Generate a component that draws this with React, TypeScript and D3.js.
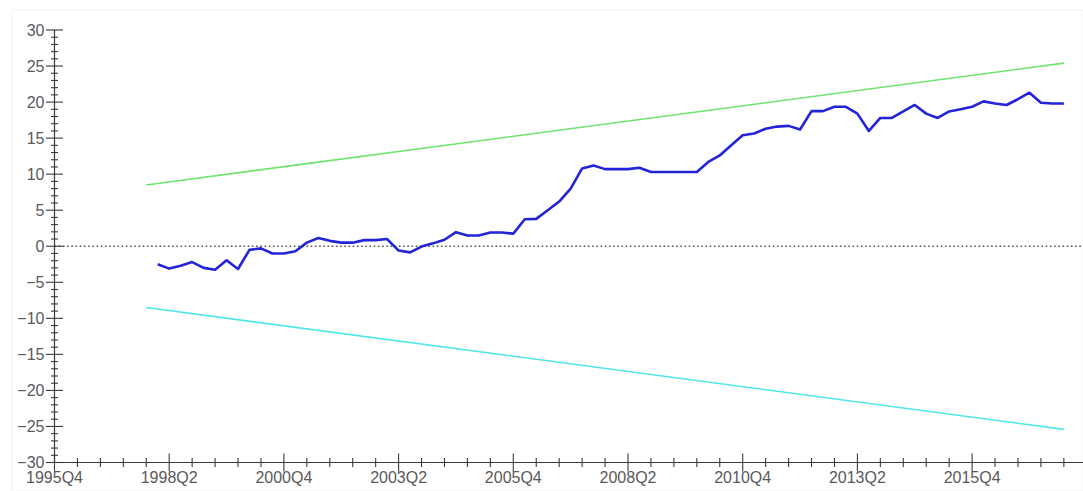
import { useEffect, useRef } from 'react'
import * as d3 from 'd3'

// quarters counted from 1995Q4 (index 0)
const xTickLabels = ['1995Q4', '1998Q2', '2000Q4', '2003Q2', '2005Q4', '2008Q2', '2010Q4', '2013Q2', '2015Q4']
const yTickValues = [-30, -25, -20, -15, -10, -5, 0, 5, 10, 15, 20, 25, 30]

// CUSUM, first point is 1998Q1
const cusumStart = 9
const cusum = [
  -2.5, -3.1, -2.7, -2.2, -3.0, -3.25, -1.95, -3.15, -0.5, -0.3,
  -1.0, -1.0, -0.7, 0.5, 1.15, 0.75, 0.5, 0.5, 0.85, 0.85,
  1.0, -0.6, -0.85, -0.05, 0.4, 0.9, 1.95, 1.5, 1.5, 1.9,
  1.9, 1.75, 3.75, 3.8, 5.0, 6.2, 8.0, 10.8, 11.2, 10.7,
  10.7, 10.7, 10.9, 10.3, 10.3, 10.3, 10.3, 10.3, 11.7, 12.6,
  14.0, 15.4, 15.65, 16.3, 16.6, 16.7, 16.2, 18.75, 18.75, 19.35,
  19.35, 18.4, 16.0, 17.8, 17.8, 18.7, 19.6, 18.4, 17.8, 18.7,
  19.0, 19.35, 20.1, 19.8, 19.6, 20.4, 21.3, 19.9, 19.8, 19.8,
]

// 5% significance bounds (straight lines), 1997Q4 .. 2017Q4
const boundQuarters = [8, 88]
const upperBound = [8.5, 25.4]
const lowerBound = [-8.5, -25.4]

const W = 1083
const H = 491

function CusumChart() {
  const ref = useRef<SVGSVGElement | null>(null)

  useEffect(() => {
    const svg = d3.select(ref.current)
    svg.selectAll('*').remove()

    const x = d3.scaleLinear().domain([0, 90]).range([54.5, 54.5 + 90 * 11.47])
    const y = d3.scaleLinear().domain([-30, 30]).range([462.5, 30])
    const axisColor = '#3a3a3a'
    const textColor = '#5a5a5a'
    const font = '"Liberation Sans", Arial, sans-serif'

    svg.append('rect').attr('x', 12).attr('y', 10).attr('width', W - 12).attr('height', H - 10)
      .attr('fill', 'white').attr('stroke', '#f2f2f2')

    // zero line
    svg.append('line')
      .attr('x1', x(0)).attr('x2', W).attr('y1', y(0)).attr('y2', y(0))
      .attr('stroke', '#555').attr('stroke-width', 1.5).attr('stroke-dasharray', '1.6,2.6')

    const line = d3.line<[number, number]>().x((d) => x(d[0])).y((d) => y(d[1]))

    svg.append('path')
      .attr('d', line(boundQuarters.map((q, i) => [q, upperBound[i]] as [number, number])))
      .attr('fill', 'none').attr('stroke', '#6ee46e').attr('stroke-width', 1.6)
    svg.append('path')
      .attr('d', line(boundQuarters.map((q, i) => [q, lowerBound[i]] as [number, number])))
      .attr('fill', 'none').attr('stroke', '#4ee6e6').attr('stroke-width', 1.6)

    svg.append('path')
      .attr('d', line(cusum.map((v, i) => [cusumStart + i, v] as [number, number])))
      .attr('fill', 'none').attr('stroke', '#2323d8').attr('stroke-width', 2.6)
      .attr('stroke-linejoin', 'round')

    // y axis
    const ax = svg.append('g')
    ax.append('line').attr('x1', x(0)).attr('x2', x(0)).attr('y1', y(30)).attr('y2', y(-30))
      .attr('stroke', axisColor).attr('stroke-width', 1.2)
    d3.range(-30, 31, 1).forEach((v) => {
      const major = v % 5 === 0
      const len = major ? 8.5 : 3.5
      ax.append('line').attr('x1', x(0) - len).attr('x2', x(0) + len).attr('y1', y(v)).attr('y2', y(v))
        .attr('stroke', axisColor).attr('stroke-width', 1.1)
    })
    yTickValues.forEach((v) => {
      ax.append('text').attr('x', x(0) - 10).attr('y', y(v)).attr('dy', '0.35em')
        .attr('text-anchor', 'end').attr('font-family', font).attr('font-size', 16)
        .attr('fill', textColor).text(v < 0 ? '\u2212' + Math.abs(v) : String(v))
    })

    // x axis
    ax.append('line').attr('x1', x(0)).attr('x2', W).attr('y1', y(-30)).attr('y2', y(-30))
      .attr('stroke', axisColor).attr('stroke-width', 1.2)
    d3.range(0, 91, 2).forEach((q) => {
      const major = q % 10 === 0
      const len = major ? 9 : 4.5
      ax.append('line').attr('x1', x(q)).attr('x2', x(q)).attr('y1', y(-30) - len).attr('y2', y(-30) + len)
        .attr('stroke', axisColor).attr('stroke-width', 1.1)
    })
    xTickLabels.forEach((label, i) => {
      ax.append('text').attr('x', x(i * 10)).attr('y', 483)
        .attr('text-anchor', 'middle').attr('font-family', font).attr('font-size', 16)
        .attr('fill', textColor).text(label)
    })
  }, [])

  return <svg ref={ref} width={W} height={H} style={{ position: 'absolute', left: 0, top: 0, background: 'white' }} />
}

export default function App() {
  return <CusumChart />
}
